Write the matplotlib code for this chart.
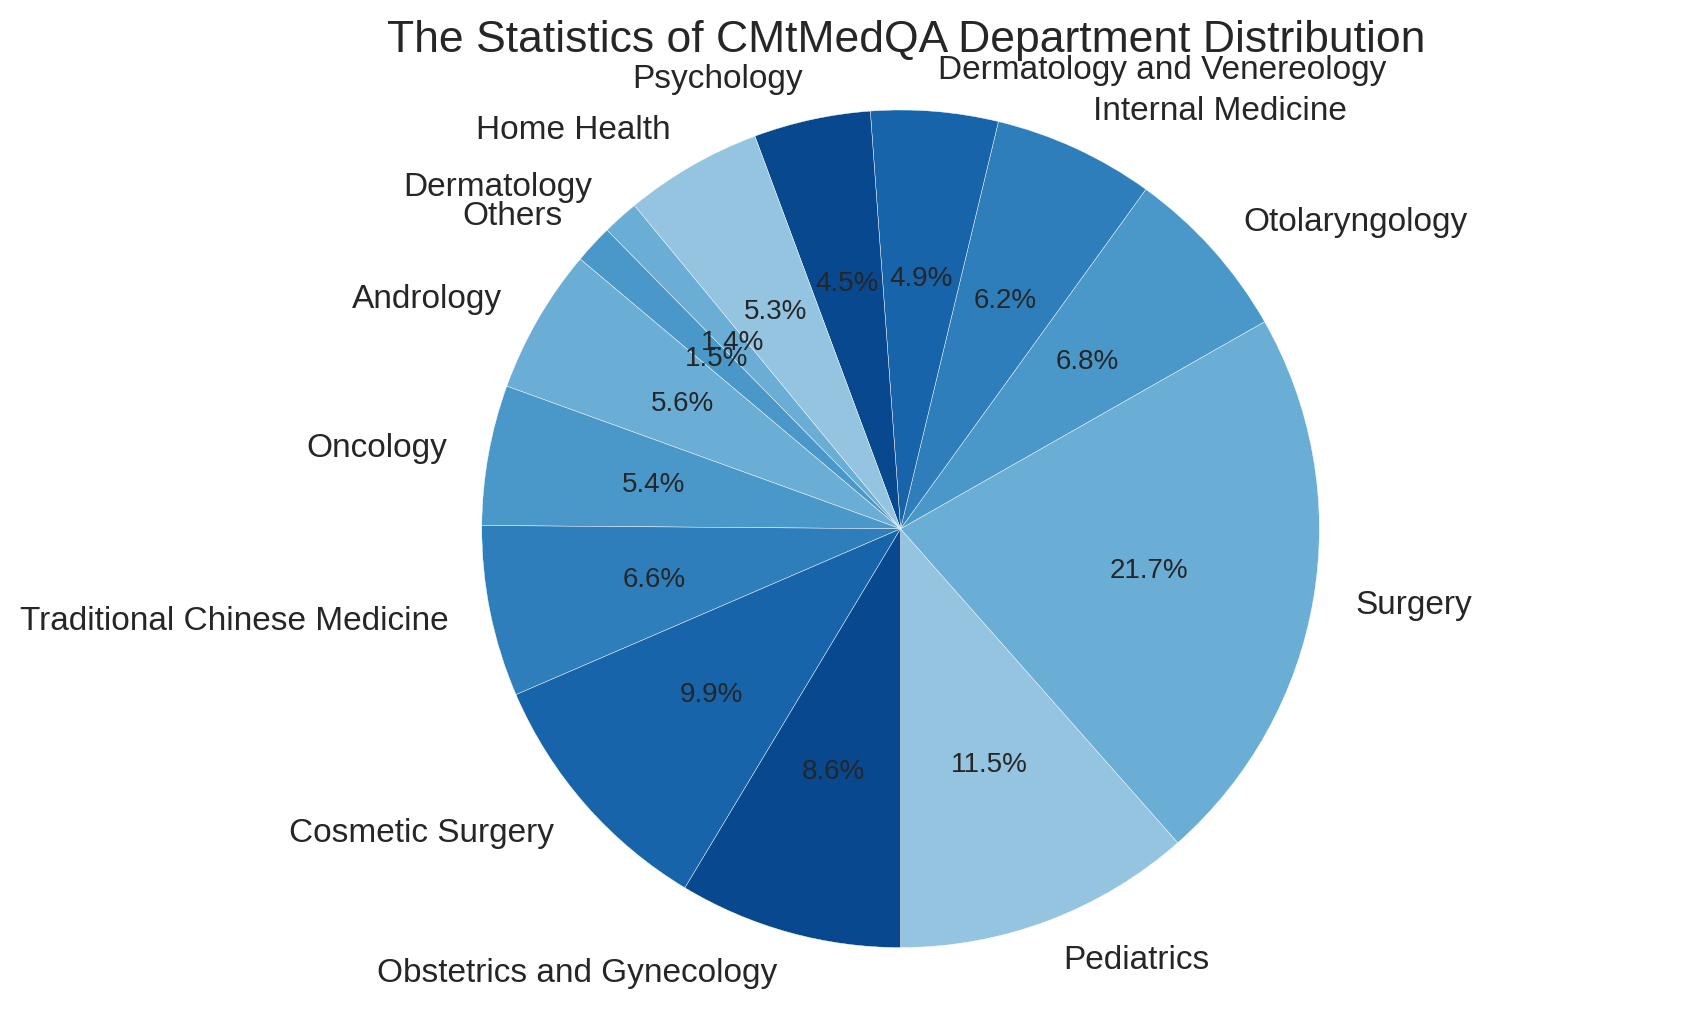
import matplotlib
matplotlib.use("Agg")
import matplotlib.pyplot as plt

plt.rcParams['font.family'] = ['Liberation Sans', 'DejaVu Sans']
plt.rcParams['text.color'] = '#262626'

# Department shares (%), in drawing order (counter-clockwise from the bottom)
departments = ["Pediatrics", "Surgery", "Otolaryngology", "Internal Medicine",
               "Dermatology and Venereology", "Psychology", "Home Health",
               "Dermatology", "Others", "Andrology", "Oncology",
               "Traditional Chinese Medicine", "Cosmetic Surgery",
               "Obstetrics and Gynecology"]
shares = [11.5, 21.7, 6.8, 6.2, 4.9, 4.5, 5.3, 1.4, 1.5, 5.6, 5.4, 6.6, 9.9, 8.6]
colors = ["#94c4df", "#6aaed6", "#4a98c9", "#2e7ebc", "#1764ab", "#08488e",
          "#94c4df", "#6aaed6", "#4a98c9", "#6aaed6", "#4a98c9", "#2e7ebc",
          "#1764ab", "#08488e"]

fig = plt.figure(figsize=(17, 10.12), dpi=100)
# square axes box so the pie sits where the reference has it
ax = fig.add_axes([0.2218, -0.0408, 0.6159, 1.0346])

wedges, texts, autotexts = ax.pie(shares, labels=departments, colors=colors,
                                  autopct='%1.1f%%', startangle=-90,
                                  wedgeprops={'edgecolor': 'white', 'linewidth': 0.3},
                                  textprops={'fontsize': 24, 'color': '#262626'})
for t in autotexts:
    t.set_fontsize(20)

ax.set_title("The Statistics of CMtMedQA Department Distribution",
             fontsize=32, x=0.5057, y=0.956, pad=0)

fig.savefig("out.png", dpi=100)
